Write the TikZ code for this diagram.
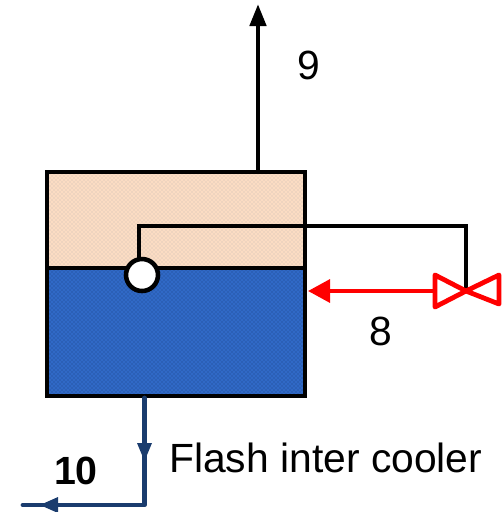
\documentclass[tikz,border=0pt]{standalone}
\usepackage{fontspec}
\setmainfont{Liberation Sans}
\usetikzlibrary{patterns,arrows.meta}
\definecolor{peach}{HTML}{FBDCC3}
\definecolor{peachdot}{HTML}{C9BDB6}
\definecolor{waterblue}{HTML}{3069C6}
\definecolor{waterdot}{HTML}{1C4488}
\definecolor{navyline}{HTML}{1A3C6E}
\definecolor{valvered}{HTML}{FF0000}
\pgfdeclarepatternformonly{finedots}{\pgfqpoint{-0.5pt}{-0.5pt}}{\pgfqpoint{3.5pt}{3.5pt}}{\pgfqpoint{3pt}{3pt}}{%
  \pgfpathcircle{\pgfqpoint{0pt}{0pt}}{0.4pt}%
  \pgfpathcircle{\pgfqpoint{1.5pt}{1.5pt}}{0.4pt}%
  \pgfusepath{fill}}
\tikzset{
  x=0.75pt,y=-0.75pt,
  phase/.style={draw=none,inner sep=0pt,outer sep=0pt,minimum width=193.5pt},
  shell/.style={draw=black,line width=3.6pt,inner sep=0pt,outer sep=0pt,minimum width=193.5pt,minimum height=168pt},
  labeltext/.style={inner sep=0pt,font=\fontsize{30.6pt}{32pt}\selectfont},
  blackflow/.style={draw=black,line width=3.4pt,-{Triangle[length=16.5pt,width=12pt]}},
  redflow/.style={draw=valvered,line width=3.2pt,-{Triangle[length=16.5pt,width=17pt]}},
  signal/.style={draw=black,line width=3.3pt},
  signalthin/.style={draw=black,line width=2.4pt},
  navyflow/.style={draw=navyline,line width=3.6pt},
  valveside/.style={draw=valvered,line width=3.6pt,line join=round},
  floatball/.style={circle,draw=black,fill=white,line width=3.4pt,minimum size=24pt,inner sep=0pt,outer sep=0pt}
}
\begin{document}
\begin{tikzpicture}
\useasboundingbox (0,0) rectangle (502,512);
% phases
\node[phase,minimum height=72pt,fill=peach] (gas) at (176,220) {};
\fill[pattern=finedots,pattern color=peachdot] (47,172) rectangle (305,268);
\node[phase,minimum height=96pt,fill=waterblue] (liquid) at (176,332) {};
\fill[pattern=finedots,pattern color=waterdot] (47,268) rectangle (305,396);
% vessel
\node[shell] (vessel) at (176,284) {};
\coordinate (levelL) at (47,268);
\coordinate (levelR) at (305,268);
\draw[draw=black,line width=3.6pt] (levelL) -- (levelR);
% named points
\coordinate (ovhd) at (258,172);
\coordinate (ovhdtip) at (258,4);
\coordinate (valveC) at (466,291);
\coordinate (inlet) at (308,291);
\coordinate (valveL) at (434,291);
\coordinate (sigA) at (139,226);
\coordinate (sigB) at (388,226);
\coordinate (sigC) at (466,226);
\coordinate (botm) at (144.5,398);
\coordinate (corner) at (144.5,505);
\coordinate (midtip) at (144.5,461);
\coordinate (outend) at (23,505);
\coordinate (outtip) at (40,505);
% overhead
\draw[blackflow] (ovhd) -- (ovhdtip);
% signal
\node[floatball] (ball) at (142,275) {};
\draw[signal] (ball.north -| sigA) -- (sigA) -- (sigB);
\draw[signalthin] (sigB) -- (sigC) -- (valveC);
% red feed
\draw[redflow] (valveL) -- (inlet);
\draw[valveside] (valveC) -- (435,275) -- (435,307) -- cycle;
\draw[valveside] (valveC) -- (499,275) -- (499,304) -- cycle;
% bottoms
\draw[navyflow,line cap=round,line join=round] (botm) -- (corner) -- (outend);
\fill[navyline] (midtip) -- ++(-7.5,-18) -- ++(15,0) -- cycle;
\fill[navyline] (outtip) -- ++(18,-8) -- ++(0,16) -- cycle;
% labels
\node[labeltext] (l9) at (309,65) {9};
\node[labeltext] (l8) at (381,331) {8};
\node[labeltext,font=\fontsize{29.5pt}{32pt}\selectfont\bfseries] (l10) at (76,471) {10};
\node[labeltext,anchor=west] (lflash) at (169,458) {Flash inter cooler};
\end{tikzpicture}
\end{document}
